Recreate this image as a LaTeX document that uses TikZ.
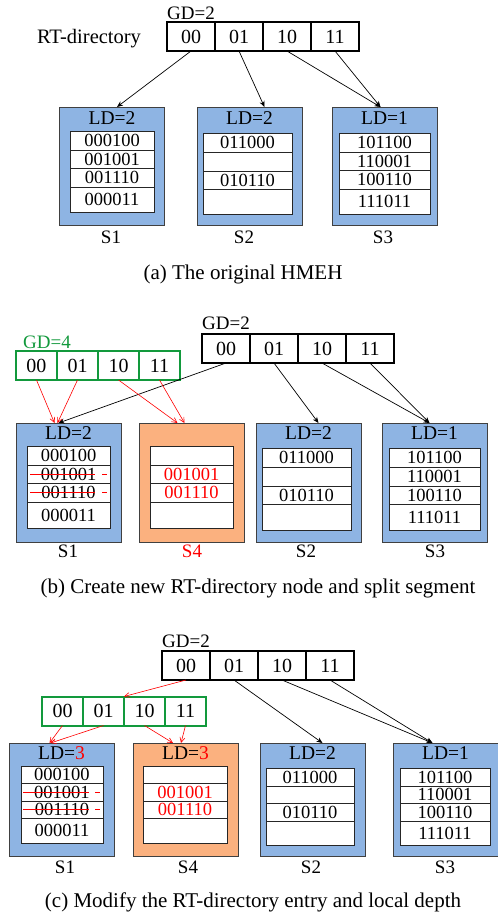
\documentclass[tikz,border=0pt]{standalone}
\usepackage{fontspec}
\setmainfont{Liberation Serif}
\usetikzlibrary{arrows.meta,positioning}
\definecolor{segblue}{HTML}{8EB4E3}
\definecolor{segorange}{HTML}{FBB17F}
\definecolor{segline}{HTML}{404040}
\definecolor{dgreen}{HTML}{12993C}
\begin{document}
\begin{tikzpicture}[x=1pt,y=-1pt,
  dircell/.style={draw=black,line width=1.3pt,minimum width=48pt,minimum height=29pt,inner sep=0pt,outer sep=0pt,font=\fontsize{20}{20}\selectfont},
  newcell/.style={dircell,draw=dgreen,line width=2pt,minimum width=41pt},
  segbox/.style={draw=segline,line width=1pt,minimum width=105pt,inner sep=0pt,anchor=north west},
  tbl/.style={draw=black!85,fill=white,line width=0.9pt},
  entry/.style={inner sep=0pt,font=\fontsize{18.5}{18.5}\selectfont},
  ldtext/.style={inner sep=0pt,font=\fontsize{19.5}{19.5}\selectfont},
  gdtext/.style={inner sep=0pt,font=\fontsize{19}{19}\selectfont},
  lbl/.style={inner sep=0pt,font=\fontsize{19}{19}\selectfont},
  captext/.style={inner sep=0pt,anchor=base,font=\fontsize{21}{21}\selectfont},
  strike/.style={draw=red,line width=1pt},
  link/.style={line width=0.7pt,-{Stealth[length=6pt,width=5pt]}},
  newlink/.style={draw=red,line width=0.6pt,-{Straight Barb[length=5pt,width=5pt]}}]
\useasboundingbox (0,0) rectangle (498,916);
% (a) the original HMEH
\node[gdtext] (agd) at (191,13) {GD=2};
\node[captext,font=\fontsize{20.5}{20.5}\selectfont] (art) at (89,43) {RT-directory};
\node[dircell] (a00) at (191,36.5) {00};
\node[dircell,right=0pt of a00] (a01) {01};
\node[dircell,right=0pt of a01] (a10) {10};
\node[dircell,right=0pt of a10] (a11) {11};
\node[segbox,fill=segblue,minimum height=118pt] (aS1) at (59,107) {};
\node[segbox,fill=segblue,minimum height=118pt] (aS2) at (197,107) {};
\node[segbox,fill=segblue,minimum height=118pt] (aS3) at (332,107) {};
\node[ldtext] (aLD1) at (112,118) {LD=2};
\node[ldtext] (aLD2) at (249.5,118) {LD=2};
\node[ldtext] (aLD3) at (384.5,118) {LD=1};
\draw[tbl] (70,131) rectangle (154,212) (70,150)--(154,150) (70,168)--(154,168) (70,187)--(154,187);
\draw[tbl] (203,133) rectangle (292,214) (203,152)--(292,152) (203,171)--(292,171) (203,189)--(292,189);
\draw[tbl] (339,133) rectangle (430,214) (339,152)--(430,152) (339,170)--(430,170) (339,189)--(430,189);
\node[entry] (a1e1) at (112,140.5) {000100};
\node[entry] (a1e2) at (112,159) {001001};
\node[entry] (a1e3) at (112,177.5) {001110};
\node[entry] (a1e4) at (112,199.5) {000011};
\node[entry] (a2e1) at (247.5,142.5) {011000};
\node[entry] (a2e3) at (247.5,180) {010110};
\node[entry] (a3e1) at (384.5,142.5) {101100};
\node[entry] (a3e2) at (384.5,161) {110001};
\node[entry] (a3e3) at (384.5,179.5) {100110};
\node[entry] (a3e4) at (384.5,201.5) {111011};
\node[lbl] (aL1) at (111,237) {S1};
\node[lbl] (aL2) at (244,237) {S2};
\node[lbl] (aL3) at (383,237) {S3};
\node[captext] (acap) at (243,279.5) {(a) The original HMEH};
\draw[link] (a00.south) -- ([xshift=5pt]aS1.north);
\draw[link] (a01.south) -- ([xshift=14.5pt]aS2.north);
\draw[link] (a10.south) -- ([xshift=-4.5pt]aS3.north);
\draw[link] (a11.south) -- ([xshift=-4.5pt]aS3.north);
% (b) new RT-directory node and split segment
\node[gdtext] (bgd) at (226,323) {GD=2};
\node[dircell] (b00) at (226,348.5) {00};
\node[dircell,right=0pt of b00] (b01) {01};
\node[dircell,right=0pt of b01] (b10) {10};
\node[dircell,right=0pt of b10] (b11) {11};
\node[gdtext,text=dgreen] (bgd4) at (47,342) {GD=4};
\node[newcell] (bg00) at (36.5,365.5) {00};
\node[newcell,right=0pt of bg00] (bg01) {01};
\node[newcell,right=0pt of bg01] (bg10) {10};
\node[newcell,right=0pt of bg10] (bg11) {11};
\node[segbox,fill=segblue,minimum height=119pt] (bS1) at (16,423) {};
\node[segbox,fill=segorange,minimum height=119pt] (bS4) at (139,423) {};
\node[segbox,fill=segblue,minimum height=119pt] (bS2) at (256,423) {};
\node[segbox,fill=segblue,minimum height=119pt] (bS3) at (382,423) {};
\node[ldtext] (bLD1) at (68.5,433) {LD=2};
\node[ldtext] (bLD2) at (308.5,433) {LD=2};
\node[ldtext] (bLD3) at (434.5,433) {LD=1};
\draw[tbl] (27,446) rectangle (110,528) (27,465)--(110,465) (27,483)--(110,483) (27,502)--(110,502);
\draw[tbl] (150,446) rectangle (233,528) (150,465)--(233,465) (150,483)--(233,483) (150,502)--(233,502);
\draw[tbl] (262,448) rectangle (351,530) (262,467)--(351,467) (262,486)--(351,486) (262,504)--(351,504);
\draw[tbl] (389,448) rectangle (480,530) (389,467)--(480,467) (389,486)--(480,486) (389,504)--(480,504);
\node[entry] (b1e1) at (68.5,455.5) {000100};
\node[entry] (b1e2) at (68.5,474) {001001};
\node[entry] (b1e3) at (68.5,492.5) {001110};
\node[entry] (b1e4) at (68.5,515) {000011};
\draw[strike] (30,474)--(95,474) (102,474)--(107,474);
\draw[strike] (30,492.5)--(95,492.5) (102,492.5)--(107,492.5);
\node[entry,text=red] (b4e2) at (191.5,474) {001001};
\node[entry,text=red] (b4e3) at (191.5,492.5) {001110};
\node[entry] (b2e1) at (306.5,457.5) {011000};
\node[entry] (b2e3) at (306.5,495) {010110};
\node[entry] (b3e1) at (434.5,457.5) {101100};
\node[entry] (b3e2) at (434.5,476.5) {110001};
\node[entry] (b3e3) at (434.5,495) {100110};
\node[entry] (b3e4) at (434.5,517) {111011};
\node[lbl] (bL1) at (68,551) {S1};
\node[lbl,text=red] (bL4) at (192,551) {S4};
\node[lbl] (bL2) at (306,551) {S2};
\node[lbl] (bL3) at (435,551) {S3};
\node[captext] (bcap) at (258,593) {(b) Create new RT-directory node and split segment};
\draw[link] (b00.south) -- ([xshift=-10.5pt]bS1.north);
\draw[link] (b01.south) -- ([xshift=9.5pt]bS2.north);
\draw[link] (b10.south) -- ([xshift=-5.5pt]bS3.north);
\draw[link] (b11.south) -- ([xshift=-5.5pt]bS3.north);
\draw[newlink] (bg00.south) -- ([xshift=-14.5pt]bS1.north);
\draw[newlink] (bg01.south) -- ([xshift=-11.5pt]bS1.north);
\draw[newlink] (bg10.south) -- ([xshift=-14.5pt]bS4.north);
\draw[newlink] (bg11.south) -- ([xshift=-7.5pt]bS4.north);
% (c) modified RT-directory entry and local depth
\node[gdtext] (cgd) at (186,641) {GD=2};
\node[dircell] (c00) at (186,665.5) {00};
\node[dircell,right=0pt of c00] (c01) {01};
\node[dircell,right=0pt of c01] (c10) {10};
\node[dircell,right=0pt of c10] (c11) {11};
\node[newcell] (cg00) at (62.5,711) {00};
\node[newcell,right=0pt of cg00] (cg01) {01};
\node[newcell,right=0pt of cg01] (cg10) {10};
\node[newcell,right=0pt of cg10] (cg11) {11};
\node[segbox,fill=segblue,minimum height=113pt] (cS1) at (9,743) {};
\node[segbox,fill=segorange,minimum height=113pt] (cS4) at (133,743) {};
\node[segbox,fill=segblue,minimum height=113pt] (cS2) at (260,743) {};
\node[segbox,fill=segblue,minimum height=113pt] (cS3) at (393,743) {};
\node[ldtext] (cLD1) at (61.5,753) {LD=\textcolor{red}{3}};
\node[ldtext] (cLD4) at (185.5,753) {LD=\textcolor{red}{3}};
\node[ldtext] (cLD2) at (312.5,753) {LD=2};
\node[ldtext] (cLD3) at (445.5,753) {LD=1};
\draw[tbl] (21,766) rectangle (103,843) (21,783)--(103,783) (21,801)--(103,801) (21,818)--(103,818);
\draw[tbl] (143,766) rectangle (227,843) (143,783)--(227,783) (143,801)--(227,801) (143,818)--(227,818);
\draw[tbl] (266,768) rectangle (354,845) (266,786)--(354,786) (266,803)--(354,803) (266,821)--(354,821);
\draw[tbl] (400,768) rectangle (490,845) (400,786)--(490,786) (400,803)--(490,803) (400,821)--(490,821);
\node[entry] (c1e1) at (62,774.5) {000100};
\node[entry] (c1e2) at (62,792) {001001};
\node[entry] (c1e3) at (62,809.5) {001110};
\node[entry] (c1e4) at (62,830.5) {000011};
\draw[strike] (23,792)--(89,792) (95,792)--(100,792);
\draw[strike] (23,809.5)--(89,809.5) (95,809.5)--(100,809.5);
\node[entry,text=red] (c4e2) at (185,792) {001001};
\node[entry,text=red] (c4e3) at (185,809.5) {001110};
\node[entry] (c2e1) at (310,777) {011000};
\node[entry] (c2e3) at (310,812) {010110};
\node[entry] (c3e1) at (445,777) {101100};
\node[entry] (c3e2) at (445,794.5) {110001};
\node[entry] (c3e3) at (445,812) {100110};
\node[entry] (c3e4) at (445,833) {111011};
\node[lbl] (cL1) at (65,867) {S1};
\node[lbl] (cL4) at (188,867) {S4};
\node[lbl] (cL2) at (311,867) {S2};
\node[lbl] (cL3) at (445,867) {S3};
\node[captext] (ccap) at (253,907) {(c) Modify the RT-directory entry and local depth};
\draw[newlink] (c00.south) -- (cg10.north west);
\draw[newlink] (cg00.south) -- ([xshift=-12.5pt]cS1.north);
\draw[newlink] (cg01.south) -- ([xshift=-11.5pt]cS1.north);
\draw[newlink] (cg10.south) -- ([xshift=-13pt]cS4.north);
\draw[newlink] (cg11.south) -- ([xshift=-5pt]cS4.north);
\draw[link] (c01.south) -- ([xshift=9.5pt]cS2.north);
\draw[link] (c10.south) -- ([xshift=-13.5pt]cS3.north);
\draw[link] (c11.south) -- ([xshift=-13.5pt]cS3.north);
\end{tikzpicture}
\end{document}
